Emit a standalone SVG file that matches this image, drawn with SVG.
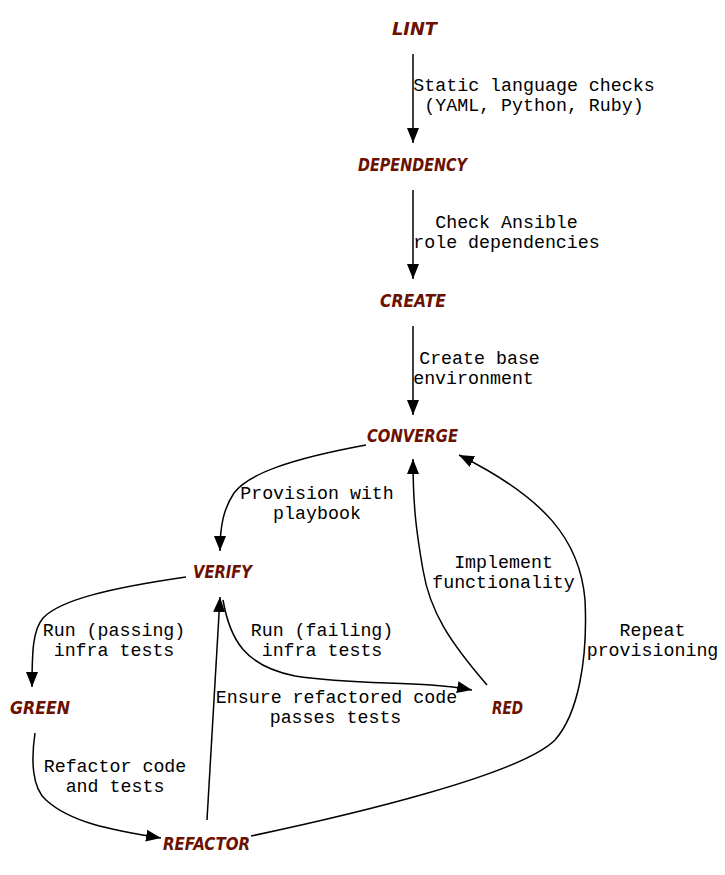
<svg xmlns="http://www.w3.org/2000/svg" width="725" height="875" viewBox="0 0 725 875">
<style>
.n{font-family:"DejaVu Sans",sans-serif;font-weight:bold;font-style:italic;font-size:17px;fill:#6b1100;text-anchor:middle}
.l{font-family:"Liberation Mono","DejaVu Sans Mono",monospace;font-size:18.3px;fill:#000;text-anchor:middle}
.e{fill:none;stroke:#000;stroke-width:1.5}
</style>
<defs>
<marker id="ah" markerUnits="userSpaceOnUse" markerWidth="16" markerHeight="12" refX="15" refY="6" orient="auto">
<path d="M0,0 L15,6 L0,12 z" fill="#000"/>
</marker>
</defs>
<rect width="725" height="875" fill="#fff"/>
<g id="connectors">
<path class="e" d="M413,54 L413,143" marker-end="url(#ah)"/>
<path class="e" d="M413,190 L413,279" marker-end="url(#ah)"/>
<path class="e" d="M413,326 L413,415" marker-end="url(#ah)"/>
<path class="e" d="M366,445 C290,459 248,474 234,493 C224,508 220,525 220,551" marker-end="url(#ah)"/>
<path class="e" d="M186,577 C110,588 60,600 43,618 C33,630 32,650 32,687" marker-end="url(#ah)"/>
<path class="e" d="M223,600 C230,640 245,666 295,676 C360,686 420,680 472,690" marker-end="url(#ah)"/>
<path class="e" d="M487,685 C450,642 430,612 423,570 C416,530 413,505 413,459" marker-end="url(#ah)"/>
<path class="e" d="M251,836 C350,815 520,775 555,740 C578,714 588,660 585,600 C580,540 545,498 459,455" marker-end="url(#ah)"/>
<path class="e" d="M207,820 L220,597" marker-end="url(#ah)"/>
<path class="e" d="M35,733 C31,760 32,788 46,800 C70,822 110,830 161,838" marker-end="url(#ah)"/>
</g>
<g id="edge-labels">
<text class="l" x="534" y="91">Static language checks</text>
<text class="l" x="534" y="111">(YAML, Python, Ruby)</text>
<text class="l" x="506.5" y="228">Check Ansible</text>
<text class="l" x="506.5" y="248">role dependencies</text>
<text class="l" x="479.5" y="364">Create base</text>
<text class="l" x="473.5" y="384">environment</text>
<text class="l" x="317" y="499">Provision with</text>
<text class="l" x="317" y="519">playbook</text>
<text class="l" x="114" y="636">Run (passing)</text>
<text class="l" x="114" y="656">infra tests</text>
<text class="l" x="322" y="636">Run (failing)</text>
<text class="l" x="322" y="656">infra tests</text>
<text class="l" x="503.5" y="568">Implement</text>
<text class="l" x="503.5" y="588">functionality</text>
<text class="l" x="652.5" y="636">Repeat</text>
<text class="l" x="652.5" y="656">provisioning</text>
<text class="l" x="336.5" y="703">Ensure refactored code</text>
<text class="l" x="335.5" y="723">passes tests</text>
<text class="l" x="115" y="772">Refactor code</text>
<text class="l" x="115" y="792">and tests</text>
</g>
<g id="lint"><text class="n" x="414.5" y="35" textLength="45" lengthAdjust="spacingAndGlyphs">LINT</text></g>
<g id="dependency"><text class="n" x="412.5" y="171" textLength="109" lengthAdjust="spacingAndGlyphs">DEPENDENCY</text></g>
<g id="create"><text class="n" x="413" y="307" textLength="66" lengthAdjust="spacingAndGlyphs">CREATE</text></g>
<g id="converge"><text class="n" x="412.5" y="442" textLength="91" lengthAdjust="spacingAndGlyphs">CONVERGE</text></g>
<g id="verify"><text class="n" x="222.5" y="578" textLength="59" lengthAdjust="spacingAndGlyphs">VERIFY</text></g>
<g id="green"><text class="n" x="40" y="714" textLength="60" lengthAdjust="spacingAndGlyphs">GREEN</text></g>
<g id="red"><text class="n" x="507.5" y="714" textLength="31" lengthAdjust="spacingAndGlyphs">RED</text></g>
<g id="refactor"><text class="n" x="206.5" y="850" textLength="87" lengthAdjust="spacingAndGlyphs">REFACTOR</text></g>
</svg>
